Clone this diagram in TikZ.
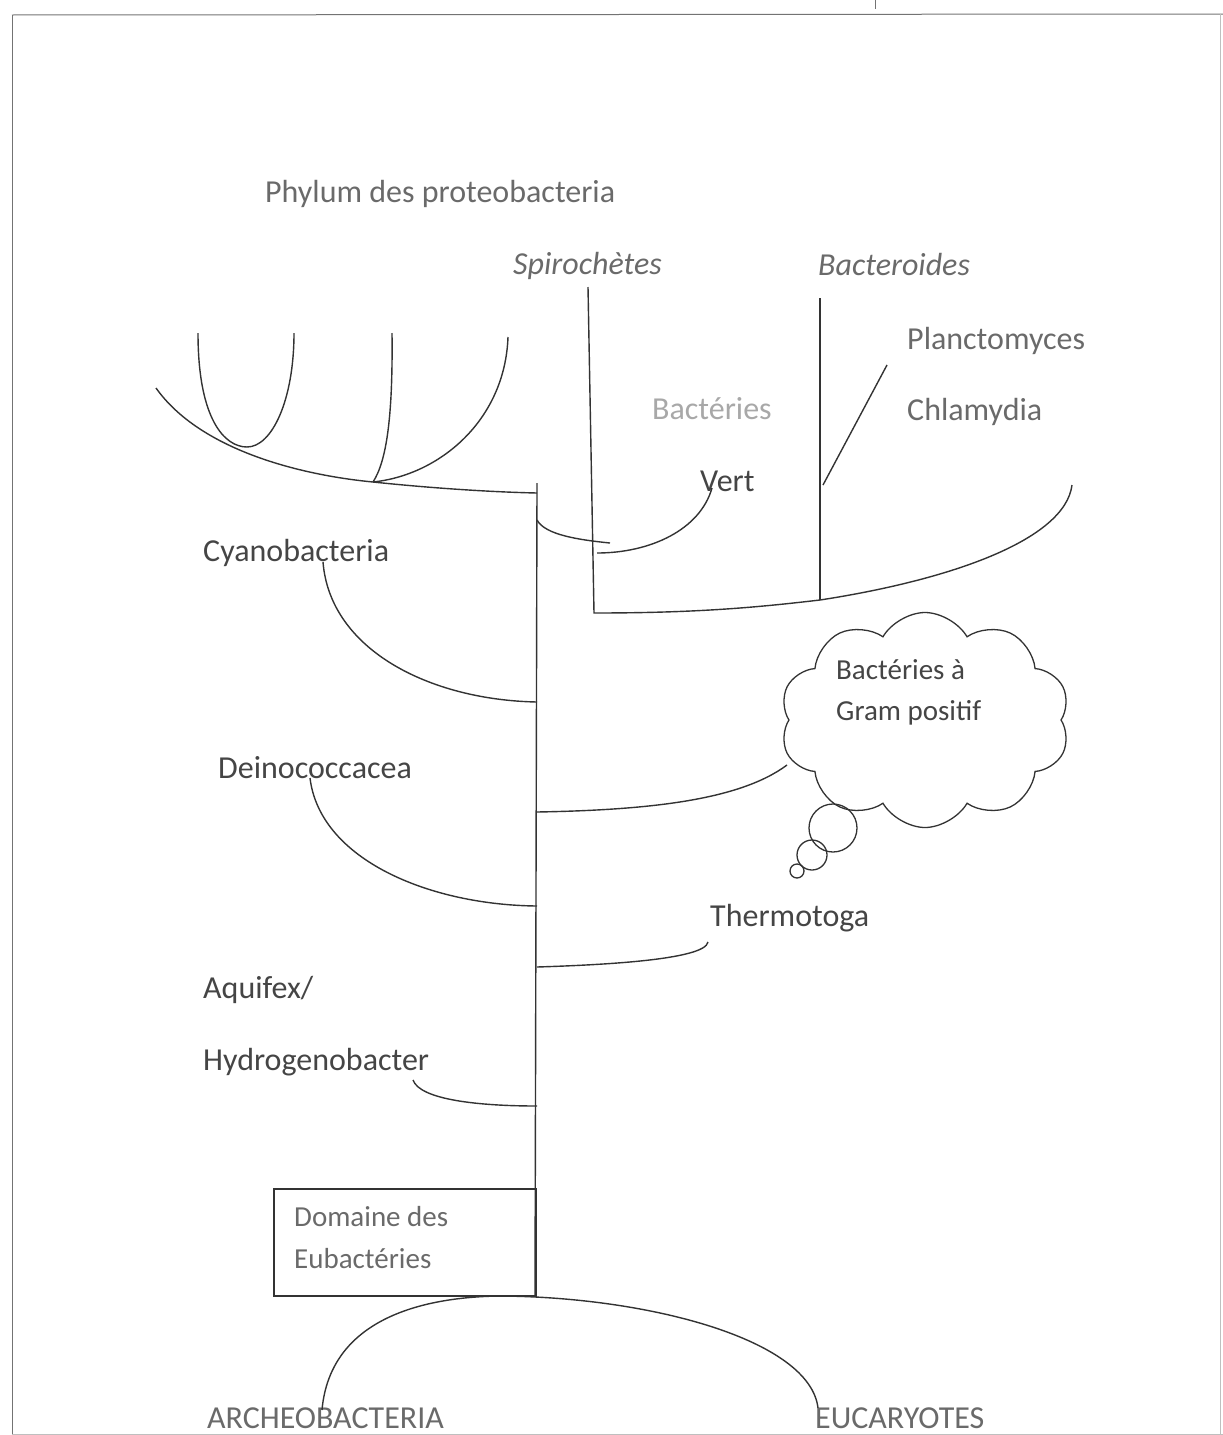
\documentclass[tikz,border=0pt]{standalone}
\usepackage{fontspec}
\setmainfont{Carlito}
\usetikzlibrary{shapes.symbols}
\definecolor{ink}{HTML}{333333}
\definecolor{txt}{HTML}{454545}
\definecolor{txtgrey}{HTML}{6A6A6A}
\definecolor{txtlight}{HTML}{A8A8A8}
\begin{document}
\begin{tikzpicture}[x=1pt,y=-1pt,
  br/.style={draw=ink,line width=1.4pt},
  lab/.style={anchor=base west,inner sep=0pt,text=txt,font=\fontsize{32}{38}\selectfont},
  smalllab/.style={anchor=base west,inner sep=0pt,text=txtgrey,font=\fontsize{29}{35}\selectfont},
  frame/.style={draw=black!55,line width=1pt}]
\useasboundingbox (0,0) rectangle (1223,1435);
% frame
\draw[frame] (12,15) -- (1223,14);
\draw[frame] (12,15) -- (12,1435);
\draw[frame,draw=black!25] (12,1434) -- (1223,1434);
\draw[frame,draw=black!25] (1220,14) -- (1220,1434);
\draw[frame] (875,0) -- (875,9);

% labels
\node[lab,text=txtgrey] (phy) at (265,202) {Phylum des proteobacteria};
\node[lab,text=txtgrey,font=\fontsize{32}{38}\selectfont\itshape] (spi) at (513,274) {Spirochètes};
\node[lab,text=txtgrey,font=\fontsize{32}{38}\selectfont\itshape] (bac) at (818,275) {Bacteroides};
\node[lab,text=txtgrey] (pla) at (907,349) {Planctomyces};
\node[lab,text=txtlight] (bv1) at (652,419) {Bactéries};
\node[lab,text=txtgrey] (chl) at (907,420) {Chlamydia};
\node[lab] (bv2) at (700,491) {Vert};
\node[lab] (cya) at (203,561) {Cyanobacteria};
\node[lab] (dei) at (218,778) {Deinococcacea};
\node[lab] (the) at (710,926) {Thermotoga};
\node[lab] (aq1) at (203,998) {Aquifex/};
\node[lab] (aq2) at (203,1070) {Hydrogenobacter};
\node[lab,text=txtgrey] (arc) at (207,1428) {ARCHEOBACTERIA};
\node[lab,text=txtgrey] (euc) at (815,1428) {EUCARYOTES};

% cloud
\node[cloud,draw=ink,line width=1.3pt,cloud puffs=10,cloud puff arc=120,aspect=1.35,
      minimum width=290pt,minimum height=215pt,inner sep=0pt] (cloud) at (925,720) {};
\node[smalllab,text=txt] (gp1) at (836,679) {Bactéries à};
\node[smalllab,text=txt] (gp2) at (836,720) {Gram positif};
\draw[br,line width=1.3pt] (833,828) circle (24);
\draw[br,line width=1.3pt] (812,855) circle (15);
\draw[br,line width=1.3pt] (797,871) circle (7);

% box
\node[draw=ink,line width=1.5pt,minimum width=262pt,minimum height=107pt,inner sep=0pt,anchor=north west] (box) at (273,1188) {};
\node[smalllab] (dom1) at (294,1226) {Domaine des};
\node[smalllab] (dom2) at (294,1268) {Eubactéries};

% coordinates
\coordinate (ttop) at (537,483);
\coordinate (tbot) at (535,1295);
\coordinate (proA) at (156,388);
\coordinate (proN) at (373,482);
\coordinate (proE) at (537,493);
\coordinate (uL) at (198,333);
\coordinate (uB) at (247,447);
\coordinate (uR) at (294,333);
\coordinate (stk) at (392,333);
\coordinate (rbr) at (508,337);
\coordinate (shA) at (537,520);
\coordinate (shB) at (610,543);
\coordinate (spT) at (588,287);
\coordinate (spB) at (594,613);
\coordinate (bcB) at (820,600);
\coordinate (bcT) at (820,298);
\coordinate (rEnd) at (1072,485);
\coordinate (plT) at (887,365);
\coordinate (plB) at (823,485);
\coordinate (vT) at (712,488);
\coordinate (vB) at (597,553);
\coordinate (cyT) at (323,562);
\coordinate (cyB) at (537,702);
\coordinate (gpA) at (537,812);
\coordinate (gpB) at (787,765);
\coordinate (deT) at (310,778);
\coordinate (deB) at (537,906);
\coordinate (thT) at (708,942);
\coordinate (thB) at (537,967);
\coordinate (hyT) at (413,1080);
\coordinate (hyB) at (537,1106);
\coordinate (arL) at (322,1410);
\coordinate (arM) at (500,1296);
\coordinate (arR) at (818,1408);

% trunk
\draw[br] (ttop) -- (tbot);
% proteobacteria
\draw[br] (proA) .. controls (200,450) and (300,475) .. (proN) .. controls (430,488) and (490,492) .. (proE);
\draw[br] (uL) .. controls (198,420) and (225,447) .. (uB) .. controls (272,447) and (294,400) .. (uR);
\draw[br] (stk) .. controls (393,420) and (386,462) .. (proN);
\draw[br] (rbr) .. controls (505,420) and (440,475) .. (proN);
% upper right group
\draw[br] (shA) .. controls (545,535) and (580,540) .. (shB);
\draw[br] (spT) -- (spB) .. controls (700,613) and (760,607) .. (bcB) .. controls (950,580) and (1065,540) .. (rEnd);
\draw[br] (bcT) -- (bcB);
\draw[br] (plT) -- (plB);
\draw[br] (vT) .. controls (700,530) and (650,553) .. (vB);
% left / right branches
\draw[br] (cyT) .. controls (330,650) and (430,700) .. (cyB);
\draw[br] (gpA) .. controls (650,810) and (740,800) .. (gpB);
\draw[br] (deT) .. controls (320,860) and (430,905) .. (deB);
\draw[br] (thT) .. controls (705,960) and (600,965) .. (thB);
\draw[br] (hyT) .. controls (420,1100) and (480,1106) .. (hyB);
% bottom arch
\draw[br] (arL) .. controls (330,1320) and (420,1297) .. (arM) .. controls (650,1297) and (810,1340) .. (arR);
\end{tikzpicture}
\end{document}
